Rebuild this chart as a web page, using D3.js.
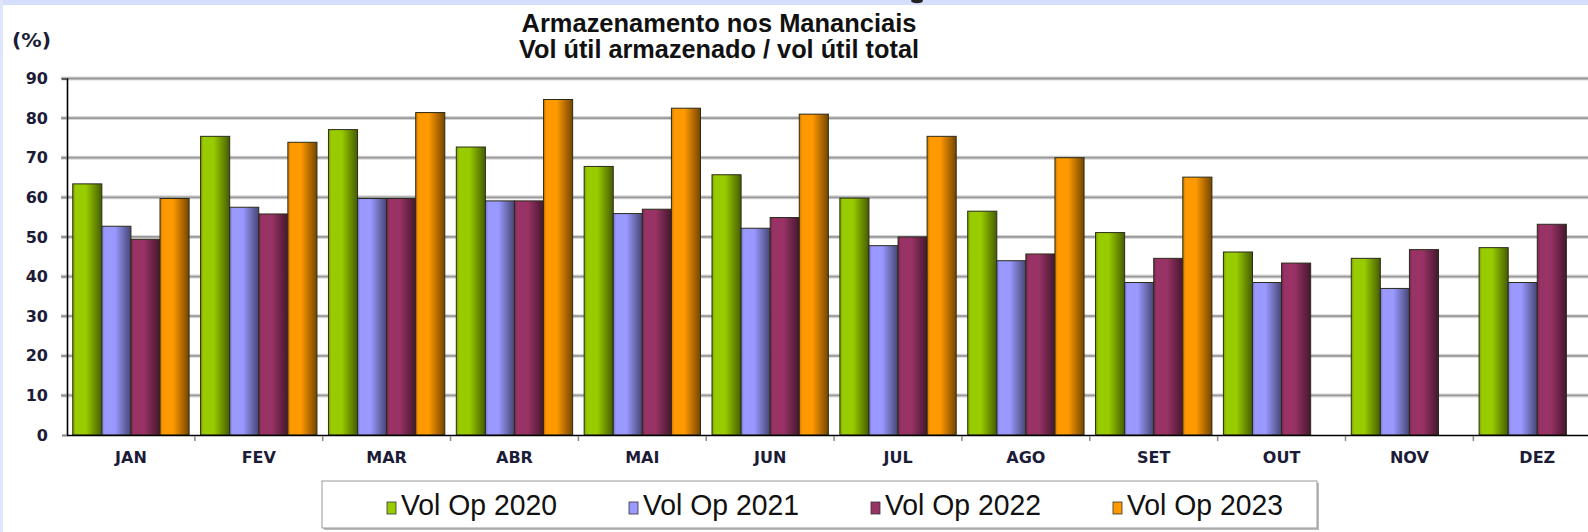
<!DOCTYPE html>
<html>
<head>
<meta charset="utf-8">
<script src="https://cdn.jsdelivr.net/npm/d3@7"></script>
<style>
  html, body { margin: 0; padding: 0; background: #fff; }
  svg { display: block; }
</style>
</head>
<body>
<div id="chart"></div>
<script>
const months = ["JAN", "FEV", "MAR", "ABR", "MAI", "JUN", "JUL", "AGO", "SET", "OUT", "NOV", "DEZ"];
const seriesNames = ["Vol Op 2020", "Vol Op 2021", "Vol Op 2022", "Vol Op 2023"];
const vol2020 = [63.4, 75.4, 77.1, 72.7, 67.8, 65.7, 59.8, 56.5, 51.1, 46.2, 44.6, 47.3];
const vol2021 = [52.7, 57.5, 59.7, 59.1, 55.9, 52.2, 47.8, 44.0, 38.5, 38.5, 37.0, 38.5];
const vol2022 = [49.4, 55.8, 59.7, 59.1, 57.0, 54.9, 50.0, 45.7, 44.6, 43.4, 46.8, 53.2];
const vol2023 = [59.7, 73.9, 81.4, 84.7, 82.5, 81.0, 75.4, 70.0, 65.1, null, null, null];
const yTicks = [0, 10, 20, 30, 40, 50, 60, 70, 80, 90];
const titleLines = ["Armazenamento nos Mananciais", "Vol útil armazenado / vol útil total"];

const seriesValues = [vol2020, vol2021, vol2022, vol2023];
const colors = ["#99cc00", "#9999ff", "#993366", "#ff9900"];

const width = 1588;
const height = 532;
const plot = { left: 67, top: 78.5, bottom: 435, band: 127.85 };

const rows = months.flatMap((m, i) =>
  seriesNames.map((s, j) => ({ month: m, series: s, idx: j, value: seriesValues[j][i] }))
).filter((d) => d.value != null);

const svg = d3.select("#chart").append("svg")
  .attr("width", width)
  .attr("height", height);

// horizontal shading, cylinder-like, one gradient per series
const defs = svg.append("defs");
colors.forEach((c, i) => {
  const base = d3.rgb(c);
  const g = defs.append("linearGradient").attr("id", `grad${i}`)
    .attr("x1", 0).attr("x2", 1).attr("y1", 0).attr("y2", 0);
  [[0, base.darker(0.7)], [0.1, base], [0.45, base], [0.75, base.darker(1)], [1, base.darker(2.2)]]
    .forEach(([o, col]) => g.append("stop").attr("offset", o).attr("stop-color", col));
});

// background bands of the screenshot
svg.append("rect").attr("width", width).attr("height", height).attr("fill", "#fff");
svg.append("rect").attr("width", width).attr("height", 5).attr("fill", "#d5defa");
svg.append("rect").attr("width", 3).attr("height", height).attr("fill", "#dfe6fb");
// bit of a cropped glyph above the title
svg.append("ellipse").attr("cx", 917).attr("cy", 1).attr("rx", 6).attr("ry", 2.2).attr("fill", "#222");

const x = d3.scaleBand()
  .domain(months)
  .range([plot.left, plot.left + plot.band * months.length]);
const xSub = d3.scaleBand()
  .domain(seriesNames)
  .range([x.bandwidth() * 0.045, x.bandwidth() * 0.955]);
const y = d3.scaleLinear().domain([0, 90]).range([plot.bottom, plot.top]);

// gridlines
const grid = svg.append("g");
grid.selectAll("line.halo").data(yTicks.slice(1)).join("line")
  .attr("class", "halo")
  .attr("x1", 61).attr("x2", width)
  .attr("y1", (d) => y(d)).attr("y2", (d) => y(d))
  .attr("stroke", "#d8d8d8").attr("stroke-width", 4);
grid.selectAll("line.main").data(yTicks.slice(1)).join("line")
  .attr("class", "main")
  .attr("x1", 61).attr("x2", width)
  .attr("y1", (d) => y(d)).attr("y2", (d) => y(d))
  .attr("stroke", "#999").attr("stroke-width", 1.8);

// bars
svg.append("g").selectAll("rect").data(rows).join("rect")
  .attr("x", (d) => x(d.month) + xSub(d.series))
  .attr("y", (d) => y(d.value))
  .attr("width", xSub.bandwidth())
  .attr("height", (d) => y(0) - y(d.value))
  .attr("fill", (d) => `url(#grad${d.idx})`)
  .attr("stroke", "#2a2a1a")
  .attr("stroke-width", 1);

// y axis
const yAxis = svg.append("g").attr("transform", `translate(${plot.left},0)`)
  .call(d3.axisLeft(y).tickValues(yTicks).tickSize(5).tickPadding(14));
yAxis.select(".domain").attr("stroke", "#000").attr("stroke-width", 1.6);
yAxis.selectAll(".tick line").attr("stroke", "#888");
yAxis.selectAll(".tick text")
  .attr("font-family", "DejaVu Sans, Verdana, sans-serif")
  .attr("font-weight", "bold").attr("font-size", 16).attr("fill", "#1c1c38");

// x axis
const xAxis = svg.append("g").attr("transform", `translate(0,${plot.bottom})`)
  .call(d3.axisBottom(x).tickSize(0).tickPadding(17));
xAxis.select(".domain").attr("stroke", "#000").attr("stroke-width", 1.6);
xAxis.selectAll(".tick text")
  .attr("font-family", "DejaVu Sans, Verdana, sans-serif")
  .attr("font-weight", "bold").attr("font-size", 16).attr("fill", "#1c1c38");
svg.append("g").selectAll("line").data(months.slice(1)).join("line")
  .attr("x1", (d) => x(d)).attr("x2", (d) => x(d))
  .attr("y1", plot.bottom + 1).attr("y2", plot.bottom + 6)
  .attr("stroke", "#888").attr("stroke-width", 1.5);

// unit and title
svg.append("text").attr("x", 12).attr("y", 47)
  .attr("font-family", "DejaVu Sans, Verdana, sans-serif").attr("font-weight", "bold")
  .attr("font-size", 19).attr("fill", "#1c1c38")
  .attr("textLength", 39).attr("lengthAdjust", "spacingAndGlyphs")
  .text("(%)");
svg.append("g").selectAll("text").data(titleLines).join("text")
  .attr("x", 719).attr("y", (d, i) => 32 + i * 26)
  .attr("text-anchor", "middle")
  .attr("font-family", "Liberation Sans, Arial, sans-serif").attr("font-weight", "bold")
  .attr("font-size", 25).attr("fill", "#111")
  .attr("textLength", (d, i) => (i === 0 ? 395 : 400))
  .attr("lengthAdjust", "spacingAndGlyphs")
  .text((d) => d);

// legend
const legend = svg.append("g");
legend.append("rect").attr("x", 324).attr("y", 483).attr("width", 995).attr("height", 47)
  .attr("fill", "#bbb");
legend.append("rect").attr("x", 322).attr("y", 481).attr("width", 995).attr("height", 47)
  .attr("fill", "#fff").attr("stroke", "#999").attr("stroke-width", 1);
const items = legend.selectAll("g.item").data(seriesNames).join("g")
  .attr("class", "item")
  .attr("transform", (d, i) => `translate(${387 + i * 242},0)`);
items.append("rect").attr("x", 0).attr("y", 502).attr("width", 9).attr("height", 12)
  .attr("fill", (d, i) => colors[i]).attr("stroke", "#333").attr("stroke-width", 0.8);
items.append("text").attr("x", 14).attr("y", 515)
  .attr("font-family", "Liberation Sans, Arial, sans-serif")
  .attr("font-size", 30).attr("fill", "#111")
  .attr("textLength", 156).attr("lengthAdjust", "spacingAndGlyphs")
  .text((d) => d);
</script>
</body>
</html>
